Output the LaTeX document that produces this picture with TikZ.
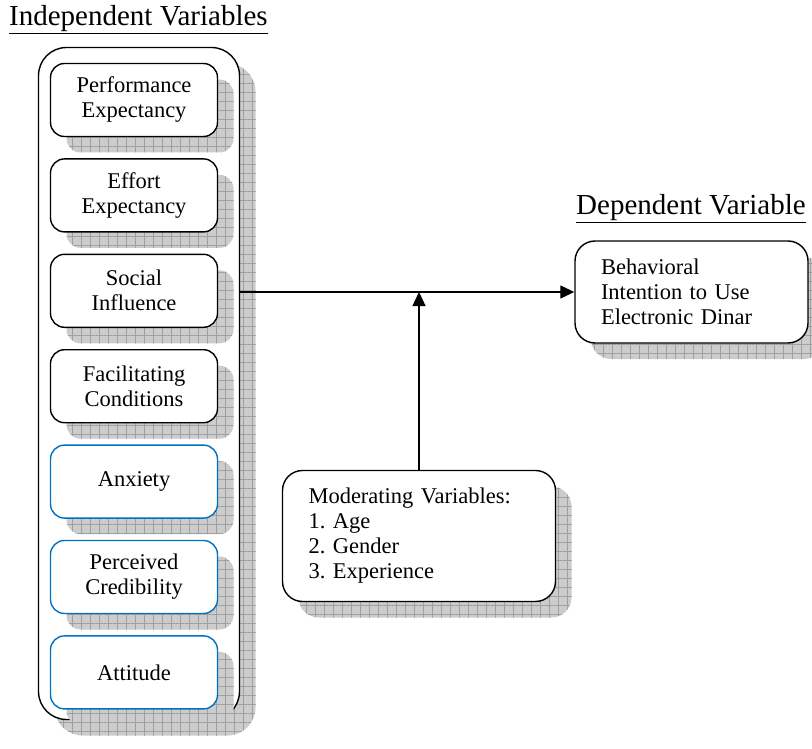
\documentclass[tikz,border=0pt]{standalone}
\usepackage{fontspec}
\setmainfont{Liberation Serif}
\usetikzlibrary{positioning, arrows.meta, patterns.meta, shadows}
\definecolor{boxblue}{RGB}{0,112,192}
\tikzset{%
  shadowed/.style={
    general shadow={shadow xshift=16pt, shadow yshift=-16pt, fill=gray!40},
    general shadow={shadow xshift=16pt, shadow yshift=-16pt,
      pattern={Hatch[angle=0,distance=9pt,line width=0.5pt]}, pattern color=gray!75}
  },
  var/.style={shadowed, draw=black, fill=white, line width=1.4pt, rounded corners=14pt,
    minimum width=167pt, minimum height=73pt, inner sep=2pt, align=center,
    font=\fontsize{22.5}{25}\selectfont},
  newvar/.style={var, draw=boxblue},
  groupbox/.style={shadowed, draw=black, fill=white, line width=1.4pt, rounded corners=28pt,
    minimum width=201pt, minimum height=672pt, inner sep=0pt},
  textbox/.style={shadowed, draw=black, fill=white, line width=1.4pt, rounded corners=20pt,
    align=left, inner xsep=26pt, font=\fontsize{22.5}{25}\selectfont},
  heading/.style={anchor=west, inner sep=0pt, font=\fontsize{29}{32}\selectfont},
  link/.style={line width=1.3pt, -{Triangle[length=14pt,width=13pt]}}
}
\begin{document}
\begin{tikzpicture}[x=1pt, y=-1pt, node distance=21pt]
  \useasboundingbox (0,0) rectangle (812,749);

  \node[heading] (indeptitle) at (9,20) {\underline{Independent Variables}};
  \node[groupbox] (indep) at (139,383.5) {};

  \node[var] (perf) at (134,100) {Performance\\Expectancy};
  \node[var,below=of perf] (effort) {Effort\\Expectancy};
  \node[var,below=of effort] (social) {Social\\Influence};
  \node[var,below=of social] (facil) {Facilitating\\Conditions};
  \node[newvar,below=of facil] (anx) {Anxiety};
  \node[newvar,below=of anx] (cred) {Perceived\\Credibility};
  \node[newvar,below=of cred] (att) {Attitude};

  \node[heading] (deptitle) at (576,209) {\underline{Dependent Variable}};
  \node[textbox, text width=181pt, minimum height=102pt] (dep) at (691.5,292)
    {Behavioral\\Intention to Use\\Electronic Dinar};

  \node[textbox, text width=221pt, minimum height=131pt] (mod) at (419,536)
    {Moderating Variables:\\1.\ Age\\2.\ Gender\\3.\ Experience};

  \draw[link] (indep.east |- dep.west) -- (dep.west);
  \draw[link] (mod.north) -- (mod.north |- dep.west);
\end{tikzpicture}
\end{document}
